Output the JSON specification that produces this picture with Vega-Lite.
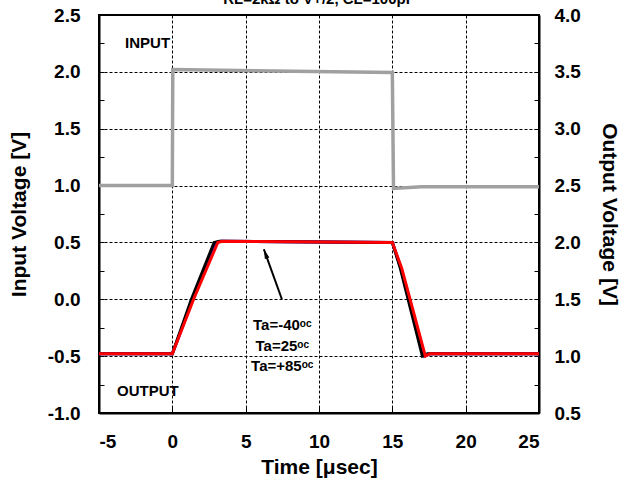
{
  "$schema": "https://vega.github.io/schema/vega-lite/v6.json",
  "width": 440,
  "height": 398,
  "autosize": {"type": "none"},
  "padding": {"left": 99, "top": 15, "right": 93, "bottom": 72},
  "background": "white",
  "title": {"text": "RL=2kΩ to V+/2, CL=100pF", "font": "Liberation Sans", "fontSize": 15, "fontWeight": "bold", "color": "black", "offset": -1, "anchor": "middle"},
  "datasets": {
    "input": [
      {"t": -5, "v": 1.0}, {"t": 0, "v": 1.0}, {"t": 0.03, "v": 2.02}, {"t": 15, "v": 1.995},
      {"t": 15.08, "v": 0.975}, {"t": 17, "v": 0.99}, {"t": 25, "v": 0.99}
    ],
    "output": [
      {"s": "25", "t": -5, "o": 1.02}, {"s": "25", "t": 0, "o": 1.02}, {"s": "25", "t": 1.4, "o": 1.5}, {"s": "25", "t": 3.0, "o": 2.0}, {"s": "25", "t": 3.3, "o": 2.01}, {"s": "25", "t": 15, "o": 2.0}, {"s": "25", "t": 15.6, "o": 1.77}, {"s": "25", "t": 17.2, "o": 1.0}, {"s": "25", "t": 17.5, "o": 1.02}, {"s": "25", "t": 25, "o": 1.02},
      {"s": "-40", "t": -5, "o": 1.02}, {"s": "-40", "t": 0, "o": 1.02}, {"s": "-40", "t": 1.3, "o": 1.5}, {"s": "-40", "t": 2.85, "o": 2.0}, {"s": "-40", "t": 3.2, "o": 2.01}, {"s": "-40", "t": 15, "o": 2.0}, {"s": "-40", "t": 15.55, "o": 1.77}, {"s": "-40", "t": 17.05, "o": 1.0}, {"s": "-40", "t": 17.4, "o": 1.02}, {"s": "-40", "t": 25, "o": 1.02},
      {"s": "85", "t": -5, "o": 1.02}, {"s": "85", "t": 0, "o": 1.02}, {"s": "85", "t": 1.45, "o": 1.5}, {"s": "85", "t": 3.1, "o": 2.0}, {"s": "85", "t": 3.4, "o": 2.01}, {"s": "85", "t": 15, "o": 2.0}, {"s": "85", "t": 15.65, "o": 1.77}, {"s": "85", "t": 17.25, "o": 1.0}, {"s": "85", "t": 17.55, "o": 1.02}, {"s": "85", "t": 25, "o": 1.02}
    ],
    "leftlabels": [
      {"t": -3.22, "v": 2.25, "txt": "INPUT"},
      {"t": -3.77, "v": -0.81, "txt": "OUTPUT"}
    ],
    "talabels": [
      {"t": 7.5, "v": -0.23, "txt": "Ta=-40ᵒᶜ"},
      {"t": 7.5, "v": -0.41, "txt": "Ta=25ᵒᶜ"},
      {"t": 7.5, "v": -0.59, "txt": "Ta=+85ᵒᶜ"}
    ],
    "arrow": [{"t": 7.47, "v": 0.0, "t2": 6.24, "v2": 0.44}],
    "head": [{"t": 6.24, "v": 0.44}]
  },
  "layer": [
    {
      "encoding": {
        "x": {"field": "t", "type": "quantitative", "scale": {"domain": [-5, 25], "nice": false, "zero": false},
          "axis": {"title": "Time [μsec]", "values": [-5, -2.5, 0, 2.5, 5, 7.5, 10, 12.5, 15, 17.5, 20, 22.5, 25],
            "labelExpr": "datum.value % 5 === 0 ? toString(datum.value) : ''", "labelPadding": 26, "titlePadding": 5,
            "grid": true, "gridOpacity": {"condition": {"test": "datum.value % 5 !== 0 || datum.value === -5 || datum.value === 25", "value": 0}, "value": 1},
            "tickSize": {"condition": {"test": "datum.value % 5 === 0", "value": -7}, "value": -5}}},
        "y": {"field": "v", "type": "quantitative", "scale": {"domain": [-1, 2.5], "nice": false, "zero": false},
          "axis": {"title": "Input Voltage [V]", "values": [-1, -0.75, -0.5, -0.25, 0, 0.25, 0.5, 0.75, 1, 1.25, 1.5, 1.75, 2, 2.25, 2.5],
            "labelExpr": "datum.value % 0.5 === 0 ? replace(format(datum.value, '.1f'), '−', '-') : ''", "labelPadding": 24, "titlePadding": 18,
            "grid": true, "gridOpacity": {"condition": {"test": "datum.value % 0.5 !== 0 || datum.value === -1 || datum.value === 2.5", "value": 0}, "value": 1}}}
      },
      "layer": [
        {
          "data": {"name": "input"},
          "mark": {"type": "line", "color": "#a0a0a0", "strokeWidth": 3.5, "strokeJoin": "miter"}
        },
        {
          "data": {"name": "arrow"},
          "mark": {"type": "rule", "color": "black", "strokeWidth": 2},
          "encoding": {"x2": {"field": "t2"}, "y2": {"field": "v2"}}
        },
        {
          "data": {"name": "head"},
          "mark": {"type": "point", "shape": "M0,0L-0.4,1.6L0.4,1.6Z", "filled": true, "color": "black", "opacity": 1, "size": 144, "angle": -20}
        },
        {
          "data": {"name": "leftlabels"},
          "mark": {"type": "text", "font": "Liberation Sans", "fontWeight": "bold", "fontSize": 15, "color": "black", "baseline": "middle", "align": "left"},
          "encoding": {"text": {"field": "txt"}}
        },
        {
          "data": {"name": "talabels"},
          "mark": {"type": "text", "font": "Liberation Sans", "fontWeight": "bold", "fontSize": 15, "color": "black", "baseline": "middle", "align": "center"},
          "encoding": {"text": {"field": "txt"}}
        }
      ]
    },
    {
      "data": {"name": "output"},
      "mark": {"type": "line", "strokeJoin": "miter"},
      "encoding": {
        "x": {"field": "t", "type": "quantitative"},
        "y": {"field": "o", "type": "quantitative", "scale": {"domain": [0.5, 4], "nice": false, "zero": false},
          "axis": {"orient": "right", "title": "Output Voltage [V]", "values": [0.5, 0.75, 1, 1.25, 1.5, 1.75, 2, 2.25, 2.5, 2.75, 3, 3.25, 3.5, 3.75, 4],
            "labelExpr": "datum.value % 0.5 === 0 ? format(datum.value, '.1f') : ''", "labelPadding": 20, "titlePadding": 18, "grid": false}},
        "detail": {"field": "s"},
        "color": {"field": "s", "type": "nominal", "scale": {"domain": ["25", "-40", "85"], "range": ["#0000ff", "#000000", "#ff0000"]}, "legend": null},
        "strokeWidth": {"field": "s", "type": "nominal", "scale": {"domain": ["25", "-40", "85"], "range": [3, 3, 4]}, "legend": null},
        "order": {"field": "t", "type": "quantitative"}
      }
    }
  ],
  "resolve": {"scale": {"y": "independent"}},
  "config": {
    "view": {"stroke": "black", "strokeWidth": 2},
    "axis": {
      "labelFont": "Liberation Sans", "labelFontWeight": "bold", "labelFontSize": 19, "labelColor": "black",
      "titleFont": "Liberation Sans", "titleFontWeight": "bold", "titleFontSize": 21, "titleColor": "black",
      "domainColor": "black", "domainWidth": 2, "tickColor": "black", "tickWidth": 1, "tickSize": -5,
      "gridColor": "black", "gridDash": [3, 2], "gridWidth": 1
    }
  }
}
